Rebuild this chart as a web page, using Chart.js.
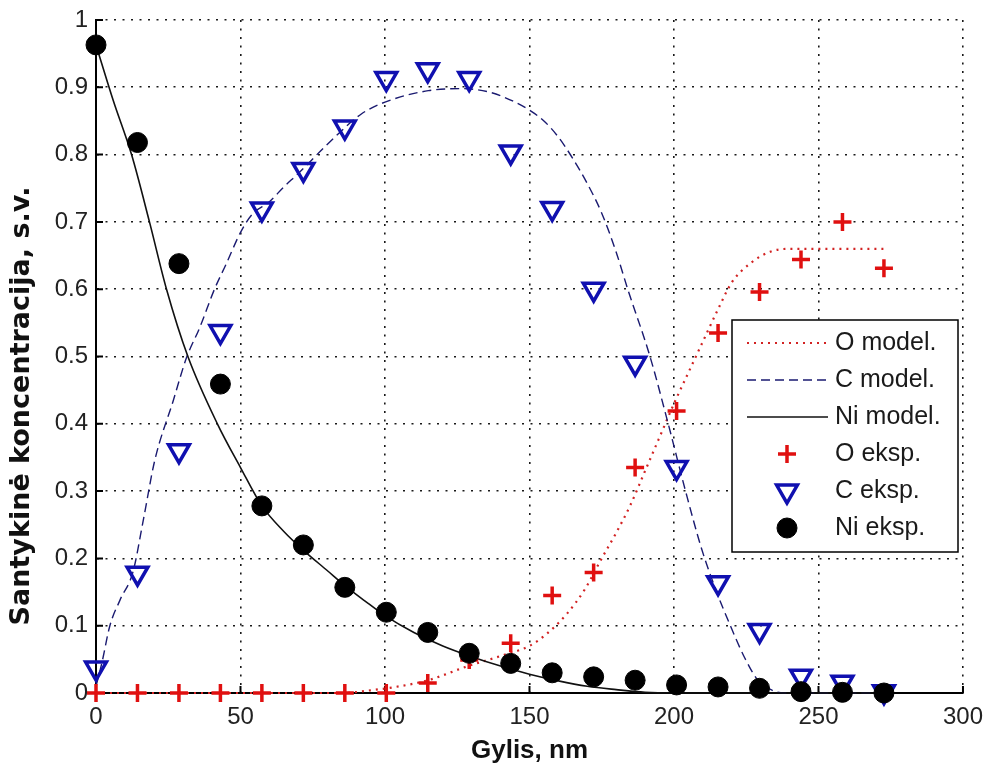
<!DOCTYPE html>
<html>
<head>
<meta charset="utf-8">
<script src="https://cdn.jsdelivr.net/npm/chart.js@4.4.1/dist/chart.umd.min.js"></script>
<style>
  html, body { margin: 0; padding: 0; background: #fff; }
</style>
</head>
<body>
<canvas id="c" width="995" height="767"></canvas>
<script>
/* ---------- duomenys ---------- */
// eksperimentiniai taškai (gylis, nm)
const expX = [0, 14.35, 28.7, 43.05, 57.4, 71.75, 86.1, 100.45, 114.8, 129.15,
              143.5, 157.85, 172.2, 186.55, 200.9, 215.25, 229.6, 243.95, 258.3, 272.65];
const oExp  = [0, 0, 0, 0, 0, 0, 0, 0, 0.015, 0.049, 0.074, 0.145, 0.179, 0.335, 0.419, 0.535, 0.596, 0.644, 0.70, 0.631];
const cExp  = [0.037, 0.178, 0.36, 0.537, 0.719, 0.778, 0.841, 0.913, 0.926, 0.913, 0.804, 0.72, 0.6, 0.49, 0.335, 0.164, 0.093, 0.025, 0.016, 0.002];
const niExp = [0.963, 0.818, 0.638, 0.459, 0.278, 0.22, 0.157, 0.12, 0.09, 0.059, 0.044, 0.03, 0.024, 0.019, 0.012, 0.009, 0.007, 0.002, 0.001, 0];

// modelio kreivės (nuskaitytos nuo paveikslo)
const oModX  = [0, 85, 95, 105, 115, 128, 140, 150, 156, 163, 169, 175, 180, 185, 190, 195, 200, 204, 209, 215, 220, 226.6, 233.5, 240, 272.65];
const oModY  = [0, 0, 0.004, 0.01, 0.019, 0.039, 0.055, 0.07, 0.088, 0.118, 0.153, 0.2, 0.238, 0.28, 0.33, 0.38, 0.43, 0.467, 0.513, 0.568, 0.61, 0.639, 0.656, 0.66, 0.66];
const cModX  = [0, 2, 4.8, 8.3, 12.8, 16.5, 20.3, 26.7, 31.3, 35.9, 41, 45, 50.2, 54.2, 60, 65, 70, 80, 91.7, 100, 115, 126.6,
                136, 145, 150, 155, 160, 165, 170, 175, 180, 184, 191.7, 198, 204, 209.5, 214.5, 219.7, 224.5, 229, 233, 238, 272.65];
const cModY  = [0.01, 0.044, 0.1, 0.138, 0.18, 0.26, 0.345, 0.434, 0.498, 0.543, 0.6, 0.637, 0.686, 0.712, 0.73, 0.752, 0.772, 0.815, 0.86, 0.878, 0.895, 0.898,
                0.893, 0.878, 0.866, 0.85, 0.826, 0.794, 0.757, 0.713, 0.655, 0.6, 0.5, 0.4, 0.3, 0.215, 0.153, 0.098, 0.052, 0.019, 0.006, 0, 0];
const niModX = [0, 6, 12.3, 18.5, 24.4, 31.8, 42, 50, 57.4, 65, 71.8, 80, 86, 93, 100, 110, 120, 130, 140, 150, 160, 170, 180, 190, 200, 272.65];
const niModY = [0.963, 0.88, 0.8, 0.7, 0.6, 0.5, 0.4, 0.335, 0.278, 0.24, 0.212, 0.182, 0.16, 0.137, 0.115, 0.09, 0.07, 0.054, 0.04, 0.028, 0.018, 0.01, 0.005, 0.001, 0, 0];

const labels = ['O model.', 'C model.', 'Ni model.', 'O eksp.', 'C eksp.', 'Ni eksp.'];
const xTicks = [0, 50, 100, 150, 200, 250, 300];

const pts = (xs, ys) => xs.map((x, i) => ({x, y: ys[i]}));

/* ---------- datasets ---------- */
const RED = '#e01010', BLUE = '#1010b0';
const datasets = [
  { label: labels[0], data: pts(oModX, oModY), showLine: true, pointRadius: 0, cubicInterpolationMode: 'monotone',
    borderColor: '#d22222', borderWidth: 2.2, borderDash: [2, 5], order: 5, clip: false },
  { label: labels[1], data: pts(cModX, cModY), showLine: true, pointRadius: 0, cubicInterpolationMode: 'monotone',
    borderColor: '#1a1a70', borderWidth: 1.4, borderDash: [9, 5], order: 4, clip: false },
  { label: labels[2], data: pts(niModX, niModY), showLine: true, pointRadius: 0, cubicInterpolationMode: 'monotone',
    borderColor: '#111', borderWidth: 1.6, order: 3, clip: false },
  { label: labels[3], data: pts(expX, oExp), showLine: false, pointStyle: 'cross', pointRadius: 9,
    borderColor: RED, pointBorderColor: RED, pointBorderWidth: 3.5, order: 2, clip: false },
  { label: labels[4], data: pts(expX, cExp), showLine: false, pointStyle: 'triangle', rotation: 180, pointRadius: 12,
    borderColor: BLUE, pointBorderColor: BLUE, backgroundColor: 'rgba(0,0,0,0)', pointBorderWidth: 3.5, order: 1, clip: false },
  { label: labels[5], data: pts(expX, niExp), showLine: false, pointStyle: 'circle', pointRadius: 10,
    borderColor: '#000', backgroundColor: '#000', pointBorderWidth: 1, order: 0, clip: false },
];

/* ---------- pluginai ---------- */
// vidinės žymės ant ašių (kaip MATLAB) + y ašies pavadinimas
const innerTicks = {
  id: 'innerTicks',
  beforeDatasetsDraw(chart) {
    const {ctx, chartArea: a, scales: {x, y}} = chart;
    ctx.save();
    ctx.strokeStyle = '#000'; ctx.lineWidth = 2;
    ctx.beginPath();
    x.ticks.forEach(t => { const px = x.getPixelForValue(t.value); ctx.moveTo(px, a.bottom); ctx.lineTo(px, a.bottom - 7); });
    y.ticks.forEach(t => { const py = y.getPixelForValue(t.value); ctx.moveTo(a.left, py); ctx.lineTo(a.left + 7, py); });
    ctx.stroke();
    ctx.translate(22, 406);
    ctx.rotate(-Math.PI / 2);
    ctx.font = 'bold 27px "DejaVu Sans"';
    ctx.fillStyle = '#111';
    ctx.textAlign = 'center'; ctx.textBaseline = 'middle';
    ctx.fillText('Santykinė koncentracija, s.v.', 0, 0);
    ctx.restore();
  }
};

// legenda grafiko viduje
const boxLegend = {
  id: 'boxLegend',
  afterDatasetsDraw(chart) {
    const ctx = chart.ctx;
    const L = 732, T = 320, W = 226, H = 232, rowH = 37;
    ctx.save();
    ctx.fillStyle = '#fff';
    ctx.fillRect(L, T, W, H);
    ctx.strokeStyle = '#000'; ctx.lineWidth = 1.5;
    ctx.strokeRect(L, T, W, H);
    chart.data.datasets.forEach((ds, i) => {
      const cy = T + 23 + i * rowH;
      ctx.save();
      if (ds.showLine) {
        ctx.strokeStyle = ds.borderColor; ctx.lineWidth = ds.borderWidth;
        ctx.setLineDash(ds.borderDash || []);
        ctx.beginPath(); ctx.moveTo(747, cy); ctx.lineTo(828, cy); ctx.stroke();
      } else {
        ctx.strokeStyle = ds.borderColor;
        ctx.fillStyle = ds.backgroundColor || ds.borderColor;
        ctx.lineWidth = ds.pointBorderWidth;
        Chart.helpers.drawPoint(ctx, {pointStyle: ds.pointStyle, rotation: ds.rotation || 0,
          radius: ds.pointRadius, borderWidth: ds.pointBorderWidth}, 787, cy);
      }
      ctx.restore();
      ctx.fillStyle = '#1a1a1a';
      ctx.font = '25px "Liberation Sans", Arial';
      ctx.textAlign = 'left'; ctx.textBaseline = 'middle';
      ctx.fillText(ds.label, 835, cy);
    });
    ctx.restore();
  }
};

/* ---------- grafikas ---------- */
const gridOpts = { color: 'rgba(0,0,0,0.9)', lineWidth: 1.6, drawTicks: false };
const tickFont = { family: '"Liberation Sans", Arial', size: 24, lineHeight: 1 };
new Chart(document.getElementById('c'), {
  type: 'scatter',
  data: { datasets },
  plugins: [innerTicks, boxLegend],
  options: {
    responsive: false,
    animation: false,
    layout: { padding: { top: 18, right: 22, left: 0, bottom: 0 } },
    plugins: { legend: { display: false }, tooltip: { enabled: false } },
    scales: {
      x: {
        type: 'linear', min: 0, max: 300,
        afterBuildTicks: s => { s.ticks = xTicks.map(v => ({value: v})); },
        afterFit: s => { s.height = 74; },
        grid: gridOpts,
        border: { display: true, color: '#000', width: 2, dash: [2, 6.5] },
        ticks: { padding: 12, color: '#222', font: tickFont },
        title: { display: true, text: 'Gylis, nm', color: '#111', padding: { bottom: 1 },
                 font: { family: '"Liberation Sans", Arial', size: 26, weight: 'bold' } }
      },
      y: {
        min: 0, max: 1,
        ticks: { stepSize: 0.1, padding: 8, color: '#222', font: tickFont,
                 callback: v => (v === 0 || v === 1) ? String(v) : v.toFixed(1) },
        afterFit: s => { s.width = 96; },
        grid: gridOpts,
        border: { display: true, color: '#000', width: 2, dash: [2, 6.5] }
      }
    }
  }
});
</script>
</body>
</html>
